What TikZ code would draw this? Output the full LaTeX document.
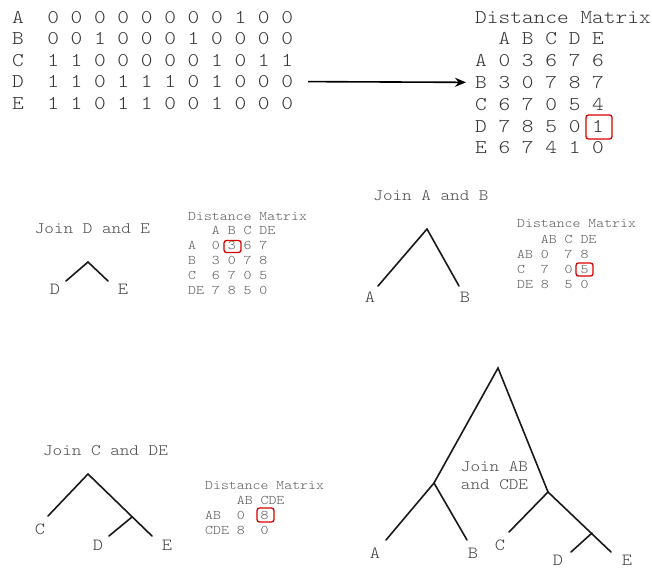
\documentclass[tikz,border=0pt]{standalone}
\usepackage{fontspec}
\setmonofont[FakeStretch=1.143]{Latin Modern Mono Light}
\usetikzlibrary{arrows.meta}

\newcommand{\bigmono}{\ttfamily\fontsize{19.5}{21.8}\selectfont}
\newcommand{\joinmono}{\ttfamily\fontsize{16}{18}\selectfont}
\newcommand{\leafmono}{\ttfamily\fontsize{17}{19}\selectfont}
\newcommand{\smallmono}{\ttfamily\fontsize{13.2}{15}\selectfont}

\tikzset{
  bigrow/.style={anchor=base west, inner sep=0pt, font=\bigmono, text=black!80},
  smallrow/.style={anchor=base west, inner sep=0pt, font=\smallmono, text=black!65},
  jointext/.style={inner sep=0pt, font=\joinmono, text=black!70, align=left},
  leaf/.style={inner sep=0pt, font=\leafmono, text=black!75},
  branch/.style={line width=1.6pt, line cap=round, black!90},
  pick/.style={draw=red!85!black, line width=1.3pt, rounded corners=2.5pt, inner sep=0pt},
}

\begin{document}
\begin{tikzpicture}[x=1pt, y=-1pt]
  \useasboundingbox[fill=white] (0,0) rectangle (652,582);

  % Binary data matrix
  \foreach \row [count=\i] in {
      A~~0~0~0~0~0~0~0~0~1~0~0,
      B~~0~0~1~0~0~0~1~0~0~0~0,
      C~~1~1~0~0~0~0~0~1~0~1~1,
      D~~1~1~0~1~1~1~0~1~0~0~0,
      E~~1~1~0~1~1~0~0~1~0~0~0}
    \node[bigrow] (adj-\i) at (12, 1.5+\i*21.5) {\row};

  % Full distance matrix
  \node[bigrow] (distT) at (475, 23) {Distance~Matrix};
  \foreach \row [count=\i] in {
      ~~A~B~C~D~E,
      A~0~3~6~7~6,
      B~3~0~7~8~7,
      C~6~7~0~5~4,
      D~7~8~5~0~1,
      E~6~7~4~1~0}
    \node[bigrow] (dist-\i) at (475, 23+\i*21.8) {\row};
  \node[pick, minimum width=26pt, minimum height=24pt] (pickDE) at (599, 127) {};

  % Arrow between the two matrices
  \draw[line width=1.6pt, -{Stealth[length=11pt, width=9pt]}, shorten <=15pt, shorten >=9pt]
    (adj-4.east) -- (dist-3.west);

  % Step 1: join D and E
  \node[jointext] (joinDE) at (92.5, 229) {Join D and E};
  \coordinate (de) at (88, 262);
  \coordinate (d1) at (66, 281);
  \coordinate (e1) at (108, 281);
  \draw[branch] (d1) -- (de) -- (e1);
  \node[leaf] (labD1) at (55, 289) {D};
  \node[leaf] (labE1) at (123, 289) {E};

  \node[smallrow] (m1T) at (188, 220) {Distance~Matrix};
  \foreach \row [count=\i] in {
      ~~~A~B~C~DE,
      A~~0~3~6~7,
      B~~3~0~7~8,
      C~~6~7~0~5,
      DE~7~8~5~0}
    \node[smallrow] (m1-\i) at (188, 220+\i*14.8) {\row};
  \node[pick, minimum width=17pt, minimum height=12pt] (pickAB) at (232.5, 246.5) {};

  % Step 2: join A and B
  \node[jointext] (joinAB) at (431, 196) {Join A and B};
  \coordinate (ab) at (427, 229);
  \coordinate (a2) at (378, 286);
  \coordinate (b2) at (459, 286);
  \draw[branch] (a2) -- (ab) -- (b2);
  \node[leaf] (labA2) at (370, 297) {A};
  \node[leaf] (labB2) at (465, 297) {B};

  \node[smallrow] (m2T) at (517, 227) {Distance~Matrix};
  \foreach \row [count=\i] in {
      ~~~AB~C~DE,
      AB~0~~7~8,
      C~~7~~0~5,
      DE~8~~5~0}
    \node[smallrow] (m2-\i) at (517, 228+\i*15) {\row};
  \node[pick, minimum width=17pt, minimum height=13pt] (pickCDE) at (584.5, 269.5) {};

  % Step 3: join C and DE
  \node[jointext] (joinCDE) at (105.5, 451) {Join C and DE};
  \coordinate (cde3) at (88, 474);
  \coordinate (c3) at (48, 516);
  \coordinate (de3) at (132, 517);
  \coordinate (d3) at (109, 536);
  \coordinate (e3) at (152, 536);
  \draw[branch] (c3) -- (cde3) -- (e3);
  \draw[branch] (de3) -- (d3);
  \node[leaf] (labC3) at (40, 529) {C};
  \node[leaf] (labD3) at (98, 545) {D};
  \node[leaf] (labE3) at (167, 545) {E};

  \node[smallrow] (m3T) at (205, 489) {Distance~Matrix};
  \foreach \row [count=\i] in {
      ~~~~AB~CDE,
      AB~~0~~8,
      CDE~8~~0}
    \node[smallrow] (m3-\i) at (205, 489+\i*15) {\row};
  \node[pick, minimum width=17pt, minimum height=14pt] (pickAll) at (265.5, 515) {};

  % Step 4: final tree
  \node[jointext] (joinAll) at (494.5, 476) {Join AB\\and CDE};
  \coordinate (root) at (498, 368);
  \coordinate (ab4) at (434, 483);
  \coordinate (cde4) at (548, 492);
  \coordinate (a4) at (386, 540);
  \coordinate (b4) at (467, 540);
  \coordinate (c4) at (509, 532);
  \coordinate (de4) at (592, 533);
  \coordinate (d4) at (571, 552);
  \coordinate (e4) at (611, 552);
  \draw[branch] (ab4) -- (root) -- (cde4);
  \draw[branch] (a4) -- (ab4) -- (b4);
  \draw[branch] (c4) -- (cde4) -- (e4);
  \draw[branch] (de4) -- (d4);
  \node[leaf] (labA4) at (375, 553) {A};
  \node[leaf] (labB4) at (473, 553) {B};
  \node[leaf] (labC4) at (500, 545) {C};
  \node[leaf] (labD4) at (558, 560) {D};
  \node[leaf] (labE4) at (627, 560) {E};
\end{tikzpicture}
\end{document}
